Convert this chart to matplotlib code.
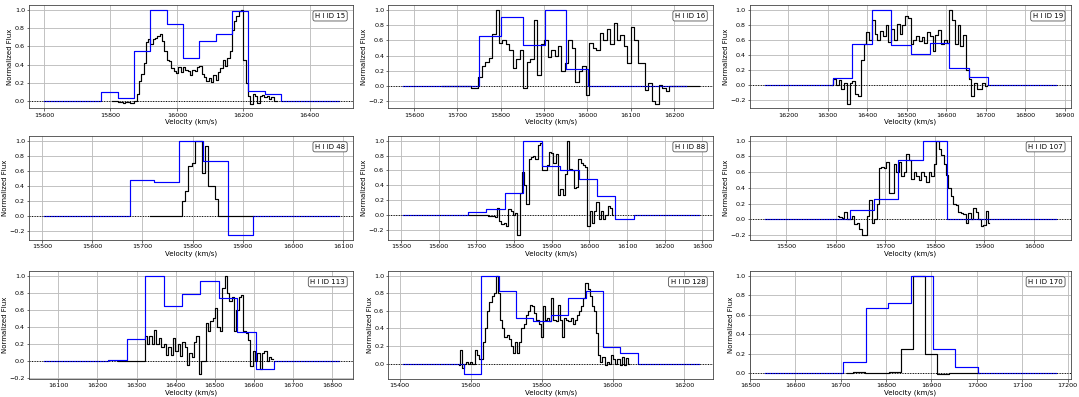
#!/usr/bin/python3

# numpy and plotting
import matplotlib
matplotlib.use('Agg')
import matplotlib.pyplot as plt
import numpy as np
from matplotlib.ticker import MultipleLocator

########################################################################################
# HI source ids, one panel each
ids = [15, 16, 19, 48, 88, 107, 113, 128, 170]

# full resolution spectra (black): first channel velocity and channel width, km/s
black_v0 = [15805, 15664, 16310, 15716, 15680, 15605, 16252, 15566, 16713]
black_dv = [7, 8, 7, 6.6, 6, 5, 6, 6, 26.5]

# ~50 km/s spectra (blue): first channel velocity and channel width, km/s
blue_v0 = [15599.4, 15575, 16140, 15504, 15506, 15457, 16063, 15410, 16532]
blue_dv = [49.3, 50.2, 49.25, 48.9, 49.0, 49.0, 47.1, 48.9, 49.5]

# x tick step of each panel
xstep = [200, 100, 100, 100, 100, 100, 100, 200, 100]

black_15 = [0.0, -0.005, 0.0, -0.01, -0.01, -0.02, -0.01, -0.015, -0.025, -0.025,
            0.0, 0.08, 0.22, 0.30, 0.42, 0.65, 0.68, 0.62, 0.68, 0.69,
            0.71, 0.73, 0.66, 0.55, 0.45, 0.44, 0.36, 0.33, 0.31, 0.37,
            0.32, 0.37, 0.34, 0.33, 0.28, 0.34, 0.33, 0.37, 0.38, 0.30,
            0.26, 0.22, 0.25, 0.21, 0.28, 0.23, 0.32, 0.36, 0.45, 0.38,
            0.47, 0.55, 0.78, 0.88, 0.93, 0.99, 1.0, 0.45, 0.2, 0.05,
            -0.03, 0.08, 0.05, -0.02, 0.05, 0.07, 0.04, 0.05, 0.02, 0.04,
            0.0, 0.0]
black_16 = [0, 0, 0, 0, 0, 0, 0, 0, 0, -0.03,
            -0.03, 0.12, 0.26, 0.32, 0.37, 0.68, 1.0, 0.57, 0.6, 0.55,
            0.47, 0.24, 0.35, 0.48, -0.03, 0.31, 0.35, 0.87, 0.15, 0.55,
            0.6, 0.38, 0.48, 0.4, 0.53, 0.2, 0.3, 0.6, 0.5, 0.05,
            0.2, 0.27, -0.12, 0.57, 0.5, 0.47, 0.7, 0.6, 0.75, 0.55,
            0.83, 0.6, 0.67, 0.52, 0.3, 0.77, 0.6, 0.3, 0.3, -0.05,
            0.04, -0.2, -0.23, 0.01, -0.02, -0.06, 0, 0, 0, 0,
            0, 0, 0, 0, 0]
black_19 = [0.0, 0.08, 0.0, 0.07, -0.05, 0.03, -0.25, 0.02, 0.05, -0.12,
            -0.15, 0.33, 0.55, 0.7, 0.6, 0.87, 0.68, 0.6, 0.72, 0.65,
            0.8, 0.57, 0.75, 0.6, 0.81, 0.68, 0.8, 0.92, 0.89, 0.55,
            0.6, 0.65, 0.58, 0.64, 0.56, 0.7, 0.65, 0.45, 0.67, 0.73,
            0.55, 0.6, 0.56, 1.0, 0.87, 0.55, 0.8, 0.52, 0.66, 0.2,
            0.08, -0.15, 0.02, -0.05, -0.05, 0.03, -0.02]
black_48 = [0, 0, 0, 0, 0, 0, 0, 0, 0, 0,
            0.2, 0.33, 0.67, 0.7, 1.0, 1.0, 0.57, 0.93, 0.4, 0.4,
            0.23, 0, 0, 0, 0, 0, 0, 0, 0, 0,
            0, 0]
black_88 = [0, 0, 0, 0, 0, 0, 0, 0, 0, -0.01,
            -0.01, -0.01, -0.02, 0.1, -0.08, -0.12, -0.1, -0.15, 0.08, 0.05,
            0.0, 0.03, -0.27, 0.3, 0.58, 0.4, 0.15, 0.75, 0.78, 0.8,
            0.75, 0.94, 0.97, 0.6, 0.6, 0.68, 0.85, 0.84, 0.7, 0.82,
            0.27, 0.35, 0.27, 0.55, 1.0, 0.62, 0.6, 0.36, 0.38, 0.75,
            0.7, 0.67, 0.65, -0.15, 0.05, -0.1, 0.05, 0.17, -0.05, 0.05,
            -0.05, 0.0, 0.12, 0.1, 0.0]
black_107 = [0.04, 0.03, 0.02, 0.1, 0.0, 0.0, 0.04, -0.06, -0.05, -0.12,
             -0.2, -0.2, 0.05, 0.25, -0.05, 0.0, 0.2, 0.65, 0.67, 0.65,
             0.73, 0.33, 0.33, 0.7, 0.6, 0.73, 0.55, 0.6, 0.83, 0.75,
             0.52, 0.6, 0.55, 0.5, 0.6, 0.55, 0.48, 0.6, 0.55, 0.7,
             1.0, 0.9, 0.82, 0.7, 0.57, 0.4, 0.3, 0.2, 0.18, 0.1,
             0.08, 0.07, -0.05, 0.08, 0.0, 0.15, 0.1, 0.0, -0.08, -0.07,
             0.11, -0.04]
black_113 = [0, 0, 0, 0, 0, 0, 0, 0, 0, 0,
             0, 0, 0.3, 0.2, 0.3, 0.2, 0.36, 0.2, 0.27, 0.17,
             0.2, 0.07, 0.17, 0.07, 0.27, 0.12, 0.2, 0.06, 0.22, 0.17,
             -0.04, 0.1, 0.05, 0.22, 0.3, -0.15, 0.0, 0.0, 0.45, 0.35,
             0.47, 0.5, 0.62, 0.4, 0.35, 0.85, 1.0, 0.8, 0.7, 0.75,
             0.35, 0.6, 0.75, 0.77, 0.35, 0.33, 0.25, -0.06, 0.12, 0.0,
             0.1, -0.09, 0.1, 0.12, 0.0, 0.05, 0.03]
black_128 = [-0.02, 0.15, -0.05, 0.0, 0.02, 0.0, 0.02, 0.0, 0.15, 0.1,
             0.05, 0.05, 0.25, 0.4, 0.6, 0.7, 0.77, 0.8, 1.0, 0.8,
             0.5, 0.4, 0.3, 0.33, 0.28, 0.2, 0.12, 0.25, 0.12, 0.25,
             0.4, 0.45, 0.55, 0.6, 0.67, 0.65, 0.58, 0.5, 0.45, 0.3,
             0.65, 0.5, 0.52, 0.48, 0.75, 0.5, 0.48, 0.67, 0.5, 0.3,
             0.52, 0.5, 0.48, 0.52, 0.45, 0.5, 0.55, 0.6, 0.65, 0.75,
             0.91, 0.85, 0.77, 0.65, 0.6, 0.35, 0.1, 0.02, 0.07, -0.02,
             0.02, 0.0, 0.1, 0.05, 0.0, 0.05, -0.02, 0.07, -0.02, 0.06,
             0.0]
black_170 = [0, 0.01, 0, 0, 0.01, 0.25, 1.0, 0.195, -0.01, 0, 0, 0]

blue_15 = [0, 0, 0, 0, 0.10, 0.035, 0.55, 1.0, 0.84, 0.47, 0.66, 0.73, 0.99, 0.11, 0.08, 0, 0, 0, 0]
blue_16 = [0, 0, 0, 0, 0.655, 0.9, 0.54, 1.0, 0.225, 0, 0, 0, 0, 0]
blue_19 = [0, 0, 0, 0, 0.095, 0.545, 1.0, 0.535, 0.41, 0.555, 0.225, 0.105, 0, 0, 0, 0]
blue_48 = [0, 0, 0, 0, 0.485, 0.46, 1.0, 0.73, -0.25, 0, 0, 0, 0]
blue_88 = [0, 0, 0, 0, 0.04, 0.08, 0.3, 1.0, 0.66, 0.61, 0.49, 0.255, -0.055, 0, 0, 0, 0]
blue_107 = [0, 0, 0, 0, 0.12, 0.26, 0.76, 1.0, 0, 0, 0, 0, 0]
blue_113 = [0, 0, 0, 0, 0.02, 0.26, 1.0, 0.64, 0.78, 0.94, 0.74, 0.34, -0.09, 0, 0, 0, 0]
blue_128 = [0, 0, 0, 0, -0.12, 1.0, 0.82, 0.52, 0.48, 0.55, 0.74, 0.82, 0.19, 0.115, 0, 0, 0, 0]
blue_170 = [0, 0, 0, 0, 0.115, 0.665, 0.72, 1.0, 0.25, 0.065, 0, 0, 0, 0]

black_flux = [black_15, black_16, black_19, black_48, black_88, black_107, black_113, black_128, black_170]
blue_flux = [blue_15, blue_16, blue_19, blue_48, blue_88, blue_107, blue_113, blue_128, blue_170]

########################################################################################
def PlotProfile(ax, i):
    vk = black_v0[i] + black_dv[i] * np.arange(len(black_flux[i]))
    vb = blue_v0[i] + blue_dv[i] * np.arange(len(blue_flux[i]))
    ax.step(vk, black_flux[i], where='mid', color='black', linewidth=0.85)
    ax.step(vb, blue_flux[i], where='mid', color='blue', linewidth=0.85)
    ax.axhline(0., color='black', linestyle=':', linewidth=0.7)
    ax.grid(True, color='#bdbdbd', linewidth=0.65)
    ax.set_axisbelow(True)
    ax.xaxis.set_major_locator(MultipleLocator(xstep[i]))
    ax.yaxis.set_major_locator(MultipleLocator(0.2))
    ax.tick_params(labelsize=4.6, length=1.8, width=0.4, pad=1.2)
    for sp in ax.spines.values():
        sp.set_linewidth(0.6)
        sp.set_color('#444444')
    ax.set_xlabel('Velocity (km/s)', fontsize=5.0, labelpad=1)
    ax.set_ylabel('Normalized Flux', fontsize=5.0, labelpad=1)
    ax.text(0.975, 0.925, 'H I ID {}'.format(ids[i]), transform=ax.transAxes,
            ha='right', va='top', fontsize=5.0,
            bbox=dict(boxstyle='round,pad=0.3', fc='white', ec='#555555', lw=0.6))

########################################################################################
fig = plt.figure(figsize=(10.79, 3.97), dpi=100)

lefts = [0.0270, 0.3599, 0.6951]
widths = [0.3004, 0.3012, 0.2975]
bottoms = [0.727, 0.3955, 0.0453]
heights = [0.260, 0.262, 0.273]

for i in range(len(ids)):
    r, c = i // 3, i % 3
    ax = fig.add_axes([lefts[c], bottoms[r], widths[c], heights[r]])
    PlotProfile(ax, i)

fig.savefig('out.png', dpi=100)
